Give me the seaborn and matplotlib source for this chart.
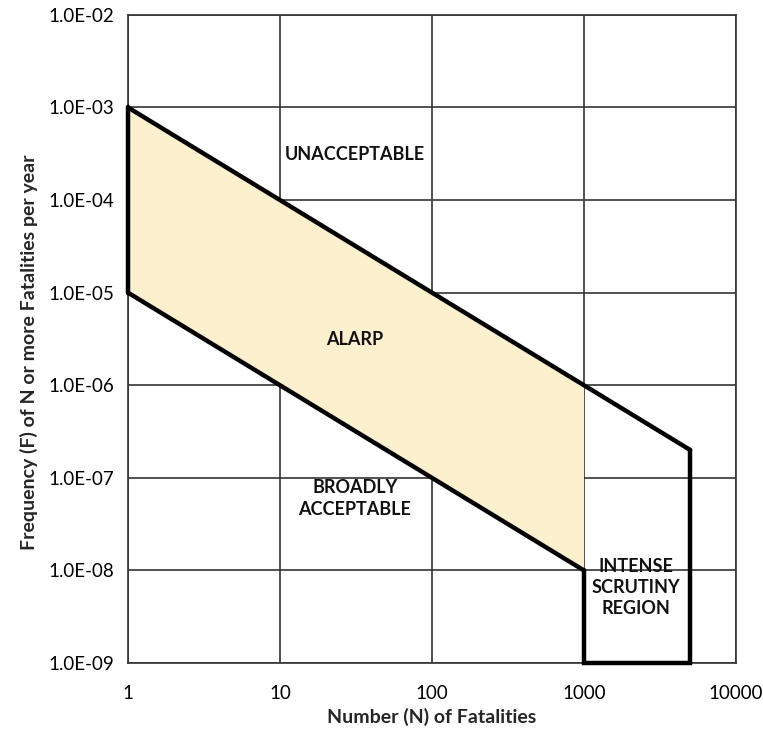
import matplotlib
matplotlib.use("Agg")
import matplotlib.pyplot as plt
import seaborn as sns
import pandas as pd

sns.set_theme(style="white")
plt.rcParams['font.family'] = ['Lato', 'DejaVu Sans']

# Limites do diagrama F-N
upper_n = [1, 5000]
upper_f = [1e-3, 2e-7]
lower_n = [1, 1000]
lower_f = [1e-5, 1e-8]
left_n = [1, 1]
left_f = [1e-5, 1e-3]
isr_n = [1000, 1000, 5000, 5000]
isr_f = [1e-8, 1e-9, 1e-9, 2e-7]

# Região ALARP (preenchida)
alarp_n = [1, 1000, 1000, 1]
alarp_f = [1e-3, 1e-6, 1e-8, 1e-5]

x_ticks = [1, 10, 100, 1000, 10000]
x_labels = ['1', '10', '100', '1000', '10000']
y_ticks = [1e-9, 1e-8, 1e-7, 1e-6, 1e-5, 1e-4, 1e-3, 1e-2]
y_labels = ['1.0E-09', '1.0E-08', '1.0E-07', '1.0E-06', '1.0E-05', '1.0E-04', '1.0E-03', '1.0E-02']

fig = plt.figure(figsize=(7.63, 7.45), dpi=100)
ax = fig.add_axes([0.1678, 0.110, 0.7968, 0.870])
ax.set_xscale('log')
ax.set_yscale('log')
ax.set_xlim(1, 10000)
ax.set_ylim(1e-9, 1e-2)

ax.fill(alarp_n, alarp_f, color='#fdf0cd', lw=0, zorder=1)

for n, f in [(upper_n, upper_f), (lower_n, lower_f), (left_n, left_f), (isr_n, isr_f)]:
    df = pd.DataFrame({'n': n, 'f': f})
    sns.lineplot(data=df, x='n', y='f', sort=False, estimator=None, color='black', lw=3.2,
                 ax=ax, zorder=4, clip_on=False, solid_joinstyle='miter')

ax.set_xticks(x_ticks)
ax.set_xticklabels(x_labels)
ax.set_yticks(y_ticks)
ax.set_yticklabels(y_labels)
ax.minorticks_off()
ax.tick_params(axis='both', length=0, labelsize=13.5, colors='black')
ax.tick_params(axis='x', pad=16)
ax.tick_params(axis='y', pad=10)
ax.grid(True, which='major', color='#333333', lw=1.2)
for s in ax.spines.values():
    s.set_color('#333333')
    s.set_linewidth(1.2)

ax.set_xlabel('Number (N) of Fatalities', fontsize=14, fontweight='bold', labelpad=4)
ax.set_ylabel('Frequency (F) of N or more Fatalities per year', fontsize=14,
              fontweight='bold', labelpad=2)
ax.yaxis.set_label_coords(-0.148, 0.48)

txt = dict(fontsize=13, fontweight='bold', ha='center', va='center', color='#111111', zorder=5)
ax.text(31, 3.1e-4, 'UNACCEPTABLE', **txt)
ax.text(31, 3.1e-6, 'ALARP', **txt)
ax.text(31, 6.0e-8, 'BROADLY\nACCEPTABLE', linespacing=1.3, **txt)
ax.text(2200, 6.5e-9, 'INTENSE\nSCRUTINY\nREGION', linespacing=1.3, **txt)

fig.savefig('out.png', dpi=100)
